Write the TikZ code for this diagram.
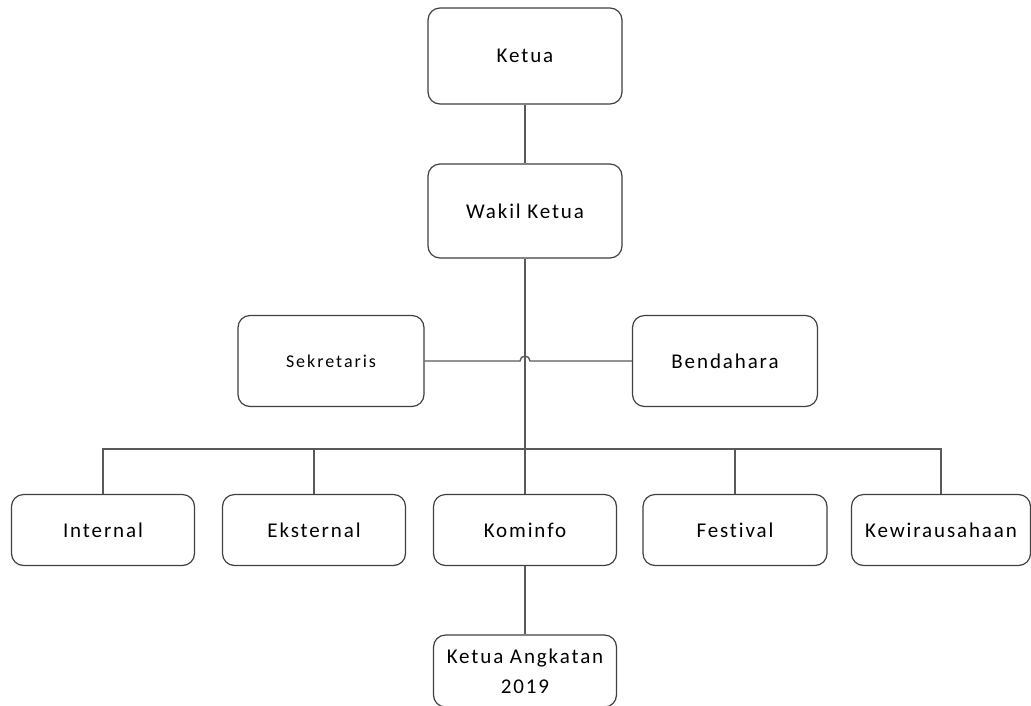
\documentclass[tikz,border=0pt]{standalone}
\usepackage{fontspec}
\setmainfont{Carlito}
\newfontfamily\boxfont[LetterSpace=9,Ligatures=NoCommon]{Carlito}
\newfontfamily\smallboxfont[LetterSpace=11,Ligatures=NoCommon]{Carlito}
\usepackage{tikz}
\usetikzlibrary{positioning}

\begin{document}
\begin{tikzpicture}[x=1pt,y=1pt]
\tikzstyle{every node}=[font=\boxfont\fontsize{21}{30}\selectfont]
\tikzstyle{box}=[draw=black!75,line width=1.2pt,rounded corners=12pt,fill=white,
inner sep=2pt,align=center]
\tikzstyle{link}=[draw=black!65,line width=1.4pt]
\useasboundingbox (0,0) rectangle (1031,-705);

% top
\node[box,minimum width=194pt,minimum height=96pt] (ketua) at (525,-56) {Ketua};
\node[box,minimum width=194pt,minimum height=94pt] (wakil) at (525,-211) {Wakil Ketua};

% staff
\node[box,minimum width=186pt,minimum height=91pt,font=\smallboxfont\fontsize{18}{21}\selectfont] (sekre) at (331,-361) {Sekretaris};
\node[box,minimum width=185pt,minimum height=91pt] (benda) at (725,-361) {Bendahara};

% divisions
\node[box,minimum width=183pt,minimum height=71pt] (internal) at (103,-530) {Internal};
\node[box,minimum width=183pt,minimum height=71pt] (eksternal) at (314,-530) {Eksternal};
\node[box,minimum width=183pt,minimum height=71pt] (kominfo) at (525,-530) {Kominfo};
\node[box,minimum width=184pt,minimum height=71pt] (festival) at (735,-530) {Festival};
\node[box,minimum width=179pt,minimum height=71pt] (kewira) at (941,-530) {Kewirausahaan};

\node[box,minimum width=183pt,minimum height=72pt] (angkatan) at (525,-671) {Ketua Angkatan\\2019};

% lines
\coordinate (bus) at (525,-449);
\coordinate (hopl) at (520,-361);
\coordinate (hopr) at (530,-361);
\draw[link] (ketua) -- (wakil);
\draw[link] (wakil) -- (kominfo);
\draw[link] (sekre.east) -- (hopl) arc (180:0:5) -- (benda.west);
\draw[link] (internal.north) |- (kewira.north |- bus) -- (kewira.north);
\draw[link] (eksternal.north) -- (eksternal.north |- bus);
\draw[link] (festival.north) -- (festival.north |- bus);
\draw[link] (kominfo) -- (angkatan);
\end{tikzpicture}
\end{document}
